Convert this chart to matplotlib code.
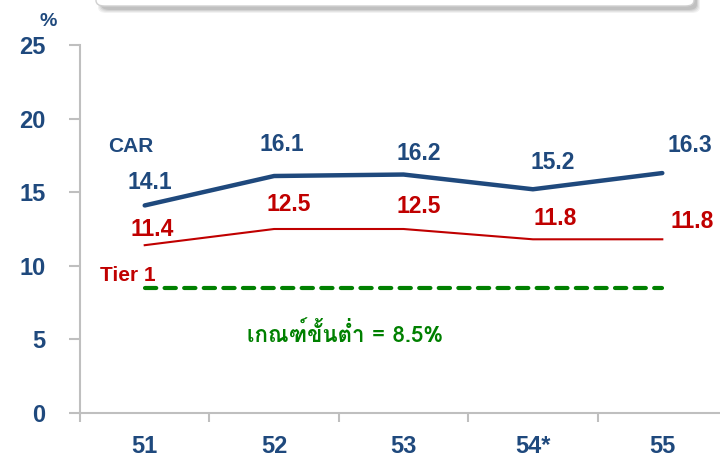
import matplotlib
matplotlib.use("Agg")
import matplotlib.pyplot as plt
from matplotlib import font_manager
from matplotlib.ft2font import FT2Font
from matplotlib.patches import FancyBboxPatch

categories = ["51", "52", "53", "54*", "55"]
car = [14.1, 16.1, 16.2, 15.2, 16.3]
tier1 = [11.4, 12.5, 12.5, 11.8, 11.8]
minimum = 8.5
yticks = [0, 5, 10, 15, 20, 25]
min_label = "เกณฑ์ขั้นต่ำ = 8.5%"

NAVY = "#1F497D"
RED = "#C00000"
GREEN = "#008000"
GRAY = "#BFBFBF"

# find a font with Thai glyphs
thai_family = None
cands = []
for f in font_manager.fontManager.ttflist:
    try:
        ft = FT2Font(f.fname)
        cm = ft.get_charmap()
        if 0x0E01 in cm and 0x0E13 in cm:
            cands.append(f)
    except Exception:
        pass
for f in cands:
    w = f.weight
    if w == "bold" or (isinstance(w, int) and w >= 700):
        thai_family = f.name
        break
if thai_family is None and cands:
    thai_family = cands[0].name

plt.rcParams['font.family'] = ['Liberation Sans', 'DejaVu Sans']
plt.rcParams['font.weight'] = 'bold'

fig = plt.figure(figsize=(7.2, 4.58), dpi=100)
ax = fig.add_axes([80/720, 45/458, 647/720, 368/458])

x = list(range(len(categories)))
ax.plot(x, car, color=NAVY, lw=3.2, solid_capstyle='round', zorder=3)
ax.plot(x, tier1, color=RED, lw=1.5, zorder=3)
ax.plot([x[0], x[-1]], [minimum, minimum], color=GREEN, lw=3,
        ls=(0, (2.7, 2.0)), dash_capstyle='round', zorder=3)

ax.set_xlim(-0.5, len(categories) - 0.5)
ax.set_ylim(0, 25)

for s in ['top', 'right']:
    ax.spines[s].set_visible(False)
for s in ['left', 'bottom']:
    ax.spines[s].set_color(GRAY)
    ax.spines[s].set_linewidth(1.5)

ax.set_yticks(yticks)
ax.set_yticklabels([str(v) for v in yticks])
ax.tick_params(axis='y', direction='out', length=8, width=1.5, color=GRAY,
               labelsize=17, labelcolor=NAVY, pad=17)
for lab in ax.get_yticklabels():
    lab.set_fontweight('bold')

ax.set_xticks([i - 0.5 for i in range(len(categories) + 1)])
ax.set_xticklabels([])
ax.set_xticks(x, minor=True)
ax.set_xticklabels(categories, minor=True)
ax.tick_params(axis='x', which='major', direction='out', length=6.5, width=1.5, color=GRAY)
ax.tick_params(axis='x', which='minor', length=0, labelsize=17, labelcolor=NAVY, pad=16)
for lab in ax.get_xticklabels(minor=True):
    lab.set_fontweight('bold')

ax.text(-0.747, 26.6, "%", color=NAVY, fontsize=14,
        fontweight='bold', ha='center', va='center', clip_on=False)

# data labels (offsets from point: dx in categories, dy in %)
car_off = [(0.04, 1.56), (0.06, 2.16), (0.12, 1.44), (0.15, 1.81), (0.21, 1.84)]
t1_off = [(0.06, 1.10), (0.115, 1.69), (0.12, 1.56), (0.17, 1.44), (0.23, 1.20)]
for i, v in enumerate(car):
    dx, dy = car_off[i]
    ax.text(i + dx, v + dy, f"{v:.1f}", color=NAVY, fontsize=16.5, fontweight='bold',
            ha='center', va='center', clip_on=False)
for i, v in enumerate(tier1):
    dx, dy = t1_off[i]
    ax.text(i + dx, v + dy, f"{v:.1f}", color=RED, fontsize=16.5, fontweight='bold',
            ha='center', va='center', clip_on=False)

ax.text(-0.106, 18.1, "CAR", color=NAVY, fontsize=15, fontweight='bold', ha='center', va='center')
ax.text(-0.129, 9.35, "Tier 1", color=RED, fontsize=15, fontweight='bold', ha='center', va='center')

fam = [thai_family, 'DejaVu Sans'] if thai_family else ['DejaVu Sans']
ax.text(1.55, 5.4, min_label, color=GREEN, fontsize=16, fontweight='bold',
        ha='center', va='center', family=fam)

# top box with soft shadow (cut off by the figure edge)
for k, a in enumerate([0.10, 0.12, 0.16, 0.22]):
    grow = (3 - k)
    sh = FancyBboxPatch(((101 - grow)/720, (458 - 10 - grow)/458), (596 + 2*grow)/720, 60/458,
                        boxstyle="round,pad=0,rounding_size=0.012",
                        transform=fig.transFigure, facecolor='#808080', edgecolor='none',
                        alpha=a, zorder=0)
    fig.patches.append(sh)
box = FancyBboxPatch((96/720, (458 - 6)/458), 598/720, 40/458,
                     boxstyle="round,pad=0,rounding_size=0.012",
                     transform=fig.transFigure, facecolor='white', edgecolor='#D0D0D0',
                     lw=1.0, zorder=1)
fig.patches.append(box)

fig.savefig("out.png", dpi=100)
